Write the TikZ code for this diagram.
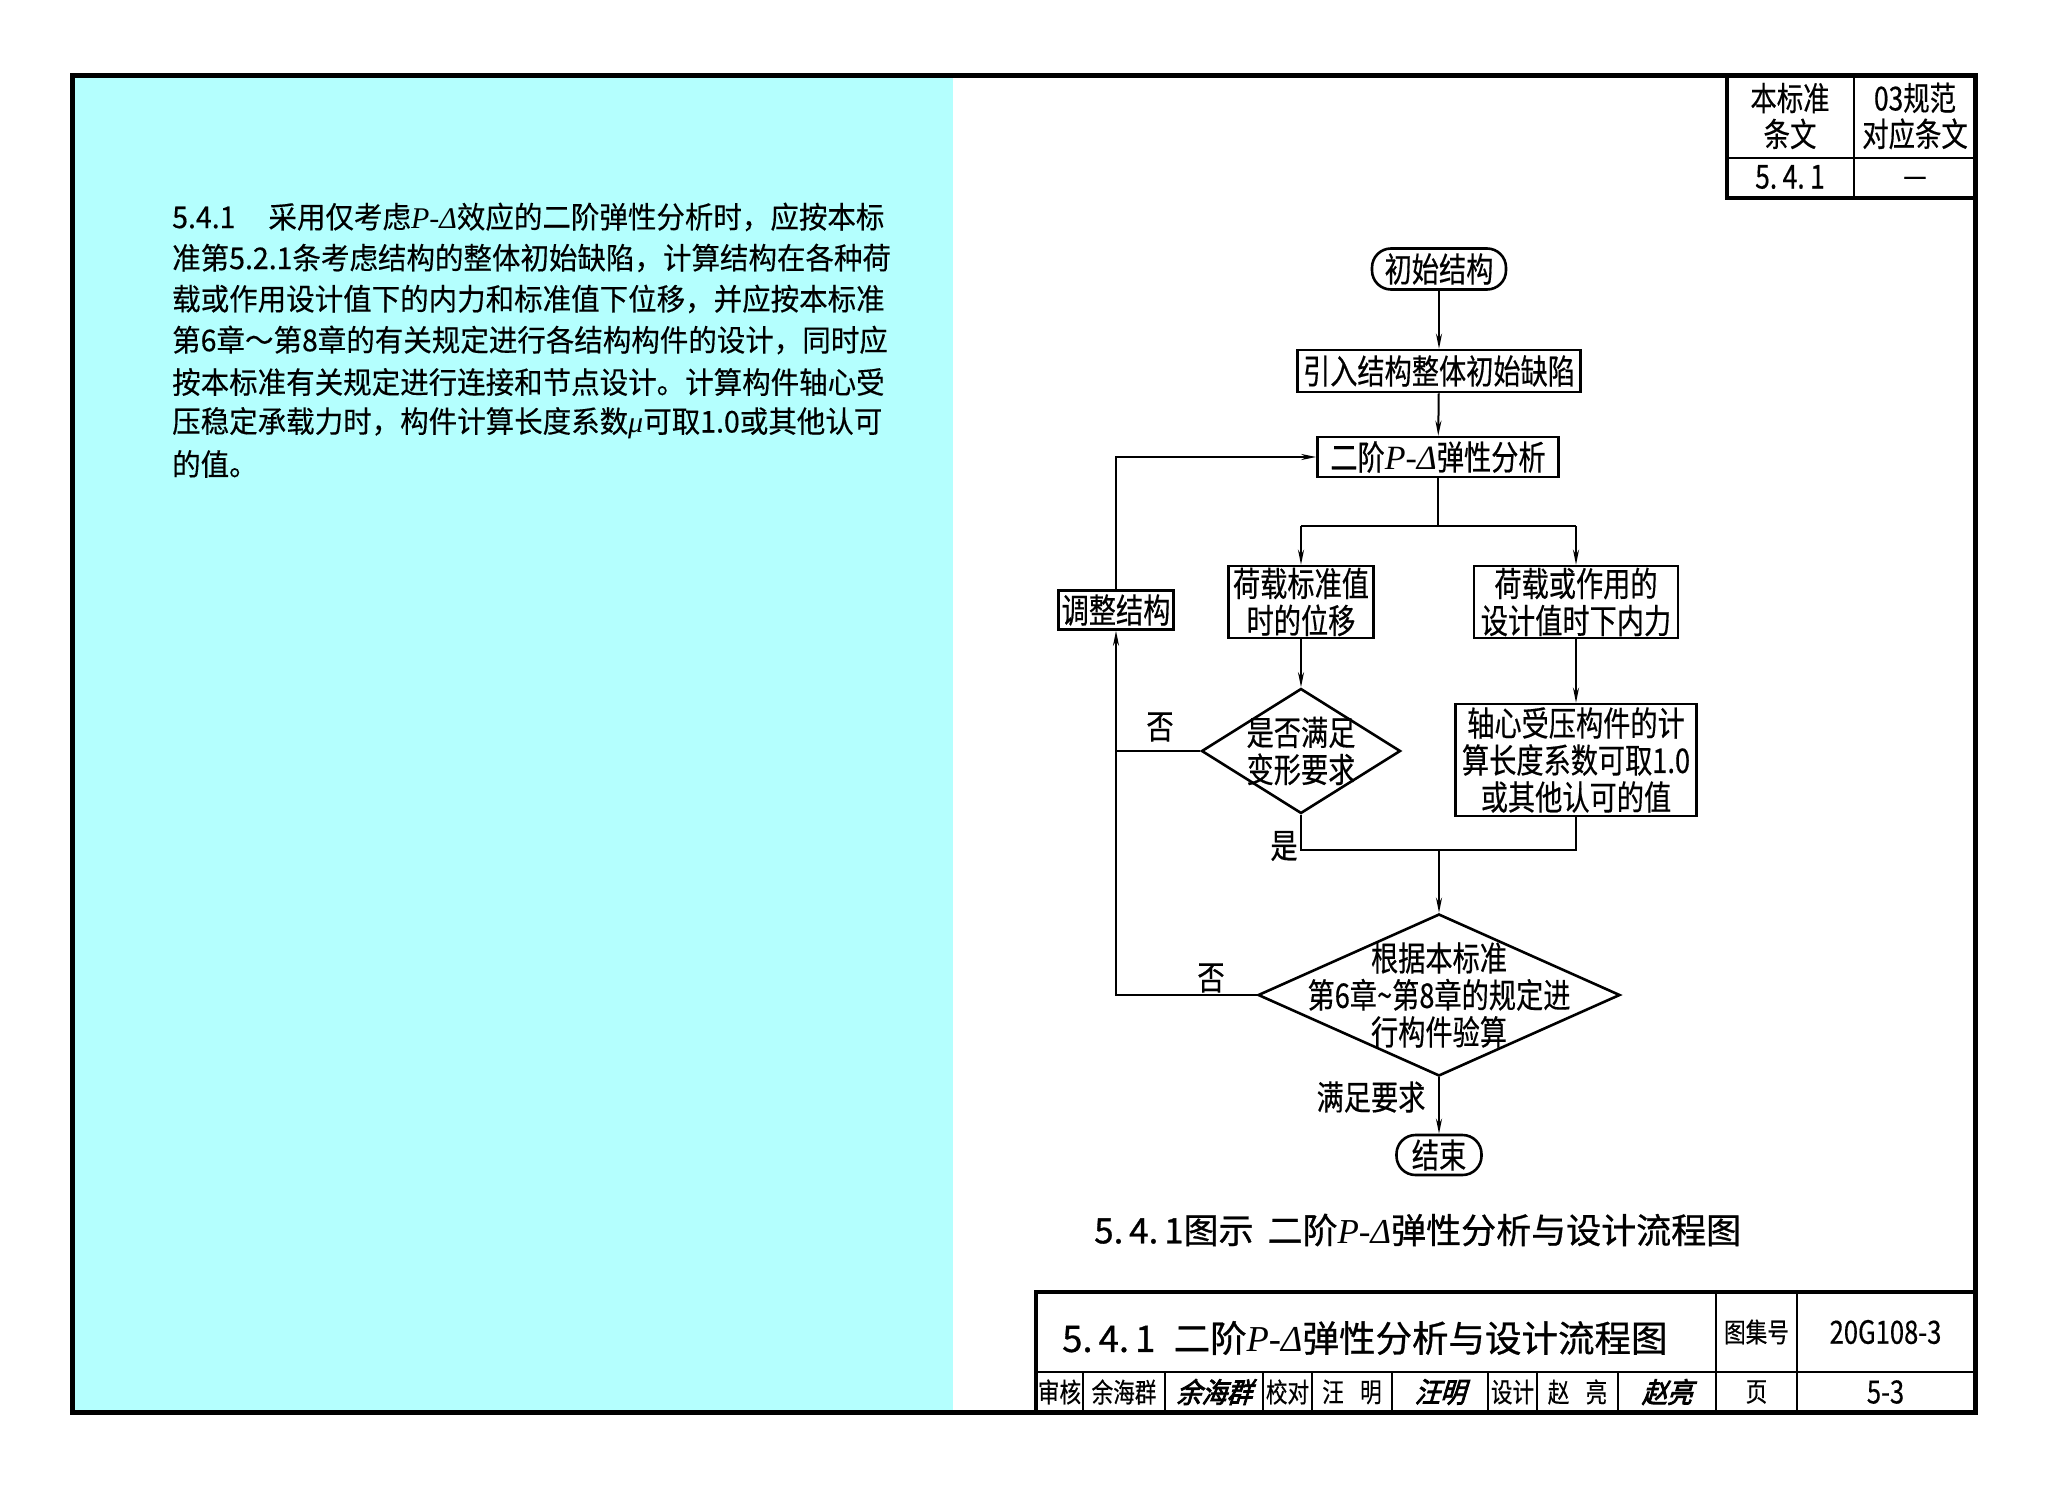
\documentclass[tikz,border=0pt]{standalone}
\usepackage{fontspec}
\setmainfont{Liberation Serif}
\newfontfamily\nar[FakeStretch=0.8,FakeBold=0.4]{Noto Sans CJK SC}
\newfontfamily\bodyf[FakeStretch=0.95,FakeBold=0.3]{Noto Sans CJK SC}
\newfontfamily\hei[FakeBold=0.8]{Noto Sans CJK SC}
\newfontfamily\sigf[FakeSlant=0.3,FakeBold=3,FakeStretch=0.9]{Noto Sans CJK SC}
\usetikzlibrary{arrows.meta,shapes.geometric}
\newcommand\PD{{\rmfamily\itshape P-Δ}}
\definecolor{cyanbg}{RGB}{180,255,254}
\begin{document}
\begin{tikzpicture}[x=1pt,y=-1pt,
 flow/.style={font=\nar\fontsize{34}{37}\selectfont},
 box/.style={flow, draw, line width=2.6pt, inner sep=0pt, align=center},
 pill/.style={box, rounded corners=19pt},
 dia/.style={draw, diamond, line width=2.6pt, inner sep=0pt},
 dtxt/.style={flow, align=center, inner sep=0pt},
 conn/.style={line width=2pt},
 arr/.style={conn, -{Stealth[length=15pt,width=6pt]}},
 lbl/.style={flow, inner sep=0pt},
 body/.style={font=\bodyf\fontsize{30}{41}\selectfont, anchor=west, inner sep=0pt},
 tbl/.style={font=\nar\fontsize{33}{36}\selectfont, align=center, inner sep=0pt},
 tbc/.style={font=\nar\fontsize{27}{30}\selectfont, inner sep=0pt},
 tbn/.style={font=\nar\fontsize{32}{34}\selectfont, inner sep=0pt},
 sig/.style={font=\sigf\fontsize{28}{30}\selectfont, inner sep=0pt}]
\useasboundingbox (0,0) rectangle (2048,1488);
\fill[white] (0,0) rectangle (2048,1488);
\fill[cyanbg] (72,76) rectangle (953,1412);
\draw[line width=5pt] (72,76) rectangle (1975,1412);

% top-right table
\draw[line width=3.5pt] (1727,76) -- (1727,198) -- (1975,198);
\draw[line width=2pt] (1727,158) -- (1975,158);
\draw[line width=2pt] (1854,76) -- (1854,198);
\node[tbl] (t1) at (1790,116) {本标准\\条文};
\node[tbl] (t2) at (1915,116) {03规范\\对应条文};
\node[tbl] (t3) at (1790,177) {5.\,4.\,1};
\node[tbl] (t4) at (1915,182) {—};

% body text
\node[body] (b1) at (172,217) {5.4.1\hspace{1.1em}采用仅考虑\PD 效应的二阶弹性分析时，应按本标};
\node[body] (b2) at (172,258) {准第5.2.1条考虑结构的整体初始缺陷，计算结构在各种荷};
\node[body] (b3) at (172,299) {载或作用设计值下的内力和标准值下位移，并应按本标准};
\node[body] (b4) at (172,340) {第6章～第8章的有关规定进行各结构构件的设计，同时应};
\node[body] (b5) at (172,382) {按本标准有关规定进行连接和节点设计。计算构件轴心受};
\node[body] (b6) at (172,423) {压稳定承载力时，构件计算长度系数{\rmfamily\itshape μ}可取1.0或其他认可};
\node[body] (b7) at (172,464) {的值。};

% flowchart
\node[pill, minimum width=134pt, minimum height=41pt] (start) at (1439,269) {初始结构};
\node[box, minimum width=283pt, minimum height=42pt] (intro) at (1439,371) {引入结构整体初始缺陷};
\node[box, minimum width=241pt, minimum height=40pt] (anal) at (1438,457) {二阶\PD 弹性分析};
\coordinate (split) at (1438,526);
\node[box, minimum width=145pt, minimum height=72pt] (disp) at (1301,602) {荷载标准值\\时的位移};
\node[box, minimum width=204pt, minimum height=72pt] (force) at (1576,602) {荷载或作用的\\设计值时下内力};
\node[box, minimum width=115pt, minimum height=39pt] (adj) at (1116,610) {调整结构};
\node[dia, minimum width=199pt, minimum height=125pt] (d1) at (1301,751) {};
\node[dtxt] (d1t) at (d1.center) {是否满足\\变形要求};
\node[box, minimum width=241pt, minimum height=112pt] (axial) at (1576,760) {轴心受压构件的计\\算长度系数可取1.0\\或其他认可的值};
\coordinate (merge) at (1439,850);
\node[dia, minimum width=362pt, minimum height=162pt] (d2) at (1439,995) {};
\node[dtxt] (d2t) at (d2.center) {根据本标准\\第6章\symbol{126}第8章的规定进\\行构件验算};
\node[pill, minimum width=85pt, minimum height=40pt] (end) at (1439,1155) {结束};

\draw[arr] (start) -- (intro);
\draw[arr] (intro) -- (anal);
\draw[conn] (anal.south) -- (split);
\draw[conn] (split -| disp.north) -- (split -| force.north);
\draw[arr] (split -| disp.north) -- (disp.north);
\draw[arr] (split -| force.north) -- (force.north);
\draw[arr] (disp.south) -- (d1.north);
\draw[arr] (force.south) -- (axial.north);
\draw[conn] (d1.south) -- (d1.south |- merge) -- (axial.south |- merge) -- (axial.south);
\draw[arr] (merge) -- (d2.north);
\draw[arr] (d2.south) -- (end.north);
\draw[arr] (d2.west) -| (adj.south);
\draw[conn] (d1.west) -- (d1.west -| adj.south);
\draw[arr] (adj.north) |- (anal.west);

\node[lbl] (no1) at (1160,727) {否};
\node[lbl] (no2) at (1211,978) {否};
\node[lbl] (yes) at (1284,846) {是};
\node[lbl] (ok) at (1371,1097) {满足要求};

% caption
\node[anchor=west, inner sep=0pt, font=\hei\fontsize{35}{40}\selectfont] (cap) at (1094,1230) {5.\,4.\,1图示\hspace{0.4em}二阶\PD 弹性分析与设计流程图};

% title block
\draw[line width=4pt] (1036,1412) -- (1036,1292) -- (1975,1292);
\draw[line width=2pt] (1036,1372) -- (1975,1372);
\draw[line width=2.5pt] (1716,1292) -- (1716,1412);
\draw[line width=2.5pt] (1797,1292) -- (1797,1412);
\foreach \x in {1083,1165,1263,1312,1392,1488,1537,1618} \draw[line width=2pt] (\x,1372) -- (\x,1412);
\node[anchor=west, inner sep=0pt, font=\hei\fontsize{36.5}{42}\selectfont] (title) at (1062,1338) {5.\,4.\,1\hspace{0.5em}二阶\PD 弹性分析与设计流程图};
\node[tbc] (c1) at (1756.5,1332) {图集号};
\node[tbn] (c2) at (1885.5,1332) {20G108-3};
\node[tbc] (r1) at (1059.5,1392) {审核};
\node[tbc] (r2) at (1124,1392) {余海群};
\node[sig] (s1) at (1214,1392) {余海群};
\node[tbc] (r3) at (1287.5,1392) {校对};
\node[tbc] (r4) at (1352,1392) {汪\hspace{0.6em}明};
\node[sig] (s2) at (1440,1392) {汪明};
\node[tbc] (r5) at (1512.5,1392) {设计};
\node[tbc] (r6) at (1577.5,1392) {赵\hspace{0.6em}亮};
\node[sig] (s3) at (1667,1392) {赵亮};
\node[tbc] (r7) at (1756.5,1392) {页};
\node[tbn] (r8) at (1885.5,1392) {5-3};
\end{tikzpicture}
\end{document}
